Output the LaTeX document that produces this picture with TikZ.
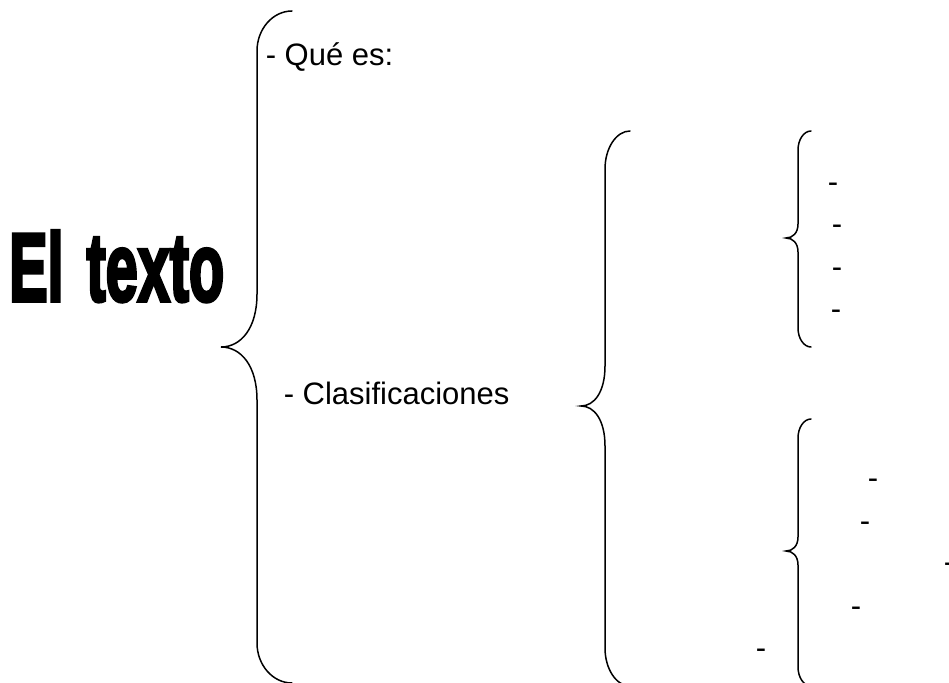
\documentclass[tikz,border=0pt]{standalone}
\usepackage{fontspec}
\setmainfont{Liberation Sans}
\newfontfamily\heavyfont{Liberation Sans Bold}[FakeBold=4]
\usepackage{graphicx}
% brace: #1 end x, #2 top y, #3 stem x, #4 tip x, #5 tip y, #6 bottom y, #7 end radius, #8 tip radius
\newcommand\mybrace[8]{%
  \pgfmathsetmacro\ea{#3+(#1-#3)*0.45}%
  \pgfmathsetmacro\ta{#4+(#3-#4)*0.55}%
  \draw[bracestyle] (#1,#2) .. controls (\ea,#2) and (#3,#2+#7*0.45) .. (#3,#2+#7)
    -- (#3,#5-#8) .. controls (#3,#5-#8*0.35) and (\ta,#5) .. (#4,#5)
    .. controls (\ta,#5) and (#3,#5+#8*0.35) .. (#3,#5+#8)
    -- (#3,#6-#7) .. controls (#3,#6-#7*0.45) and (\ea,#6) .. (#1,#6);}
\begin{document}
\begin{tikzpicture}[x=1pt,y=-1pt,
  bracestyle/.style={line width=1.5pt,line cap=round},
  label/.style={inner sep=0pt,anchor=base west,font=\fontsize{31}{36}\selectfont},
  dashlbl/.style={inner sep=0pt,anchor=base,font=\fontsize{31}{36}\selectfont}]
\useasboundingbox (0,0) rectangle (949,682);
\node[inner sep=0pt,anchor=south west] (title) at (9,302)
  {\resizebox{215pt}{70pt}{\heavyfont El\hspace{0.12em} texto}};
\node[label] (que) at (265.6,65.5) {- Qué es:};
\node[label] (clas) at (283.6,404) {- Clasificaciones};
% braces
\mybrace{292}{11}{257}{221}{347}{683}{40}{53}
\mybrace{630}{131}{605}{581}{406}{686}{38}{40}
\mybrace{811}{131}{798}{786}{238}{347}{19}{14}
\mybrace{811}{419}{798}{786}{551}{686}{19}{14}
% dashes of upper small brace
\node[dashlbl] (d1) at (833,192.5) {-};
\node[dashlbl] (d2) at (837,234.5) {-};
\node[dashlbl] (d3) at (837,277.5) {-};
\node[dashlbl] (d4) at (836,319.5) {-};
% dashes of lower small brace
\node[dashlbl] (e1) at (873,488.5) {-};
\node[dashlbl] (e2) at (865,531.5) {-};
\node[dashlbl] (e3) at (949,572.5) {-};
\node[dashlbl] (e4) at (856,616.5) {-};
\node[dashlbl] (e5) at (761,658.5) {-};
\end{tikzpicture}
\end{document}
